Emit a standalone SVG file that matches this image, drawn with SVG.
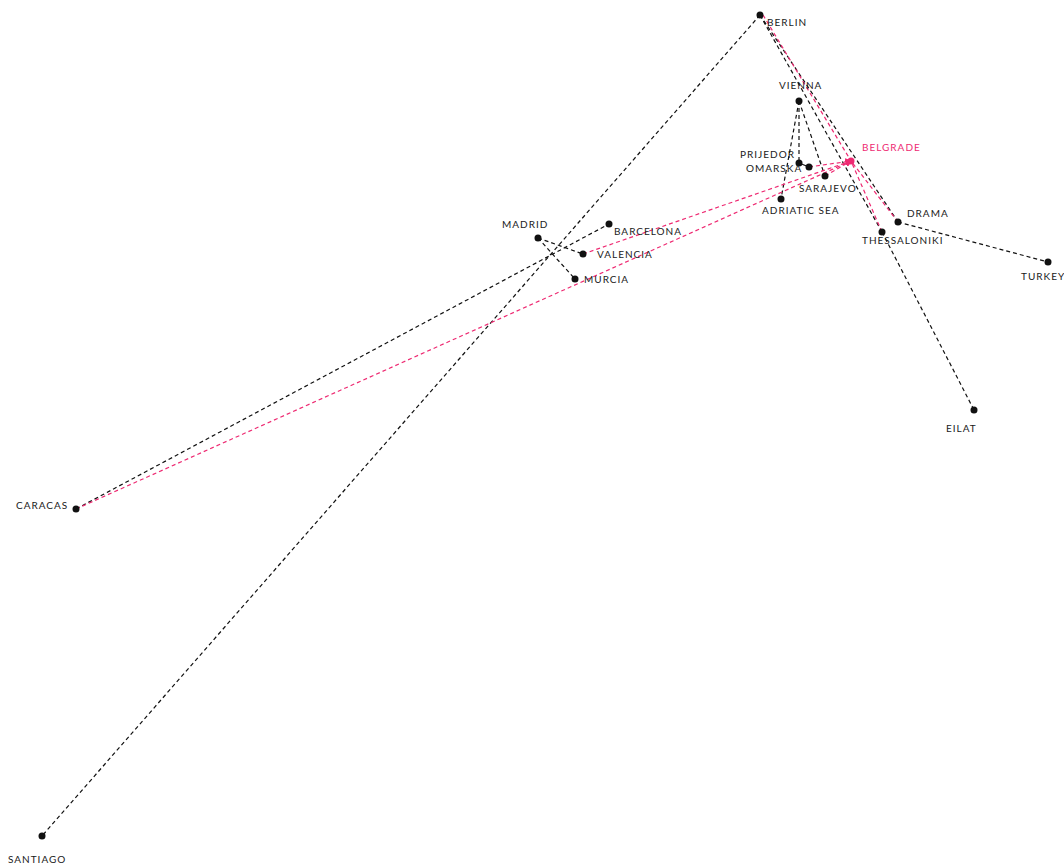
<svg xmlns="http://www.w3.org/2000/svg" width="1064" height="865" viewBox="0 0 1064 865">
<defs>
<style>
.e{fill:none;stroke:#111;stroke-width:1.2;stroke-dasharray:4 3}
.p{fill:none;stroke:#ee2a72;stroke-width:1.2;stroke-dasharray:4 3}
.a{marker-end:url(#ah)}
.d{fill:#111}
.pd{fill:#ee2a72}
text{font-family:Lato,"Open Sans","DejaVu Sans",sans-serif;font-size:10px;letter-spacing:1px;fill:#1a1a1a}
.pt{fill:#ee2a72}
</style>
<marker id="ah" viewBox="0 0 10 10" refX="8" refY="5" markerWidth="7" markerHeight="7" markerUnits="userSpaceOnUse" orient="auto">
<path d="M0,0 L10,5 L0,10 z" fill="#ee2a72"/>
</marker>
</defs>
<rect width="1064" height="865" fill="#fff"/>
<g id="connectors">
<line class="e" x1="760" y1="15" x2="42" y2="836"/>
<line class="e" x1="760" y1="15" x2="882" y2="232"/>
<line class="e" x1="760" y1="15" x2="898" y2="222"/>
<line class="e" x1="799" y1="101" x2="799" y2="163"/>
<line class="e" x1="799" y1="101" x2="781" y2="199"/>
<line class="e" x1="799" y1="101" x2="825" y2="176"/>
<line class="e" x1="799" y1="163" x2="809" y2="167" style="stroke-dasharray:none"/>
<line class="e" x1="882" y1="232" x2="974" y2="410"/>
<line class="e" x1="898" y1="222" x2="1048" y2="262"/>
<line class="e" x1="538" y1="238" x2="583" y2="254"/>
<line class="e" x1="538" y1="238" x2="575" y2="279"/>
<line class="e" x1="76" y1="509" x2="609" y2="224"/>
<line class="p" x1="763" y1="15" x2="851" y2="161"/>
<line class="p" x1="882" y1="232" x2="851" y2="161"/>
<line class="p" x1="898" y1="222" x2="851" y2="161"/>
<line class="p a" x1="809" y1="167" x2="851" y2="161"/>
<line class="p a" x1="825" y1="176" x2="851" y2="161"/>
<line class="p a" x1="583" y1="254" x2="851" y2="161"/>
<line class="p a" x1="76" y1="509" x2="851" y2="161"/>
</g>
<g id="berlin"><circle class="d" cx="760" cy="15" r="3.5"/><text x="767" y="26">BERLIN</text></g>
<g id="vienna"><circle class="d" cx="799" cy="101" r="3.5"/><text x="779" y="89">VIENNA</text></g>
<g id="prijedor"><circle class="d" cx="799" cy="163" r="3.5"/><text x="740" y="158">PRIJEDOR</text></g>
<g id="omarska"><circle class="d" cx="809" cy="167" r="3.5"/><text x="746" y="172">OMARSKA</text></g>
<g id="sarajevo"><circle class="d" cx="825" cy="176" r="3.5"/><text x="799" y="192">SARAJEVO</text></g>
<g id="adriatic-sea"><circle class="d" cx="781" cy="199" r="3.5"/><text x="762" y="214">ADRIATIC SEA</text></g>
<g id="belgrade"><circle class="pd" cx="851" cy="161" r="3.5"/><text class="pt" x="862" y="151">BELGRADE</text></g>
<g id="drama"><circle class="d" cx="898" cy="222" r="3.5"/><text x="907" y="217">DRAMA</text></g>
<g id="thessaloniki"><circle class="d" cx="882" cy="232" r="3.5"/><text x="862" y="244">THESSALONIKI</text></g>
<g id="turkey"><circle class="d" cx="1048" cy="262" r="3.5"/><text x="1021" y="280">TURKEY</text></g>
<g id="eilat"><circle class="d" cx="974" cy="410" r="3.5"/><text x="946" y="432">EILAT</text></g>
<g id="madrid"><circle class="d" cx="538" cy="238" r="3.5"/><text x="502" y="228">MADRID</text></g>
<g id="barcelona"><circle class="d" cx="609" cy="224" r="3.5"/><text x="614" y="235">BARCELONA</text></g>
<g id="valencia"><circle class="d" cx="583" cy="254" r="3.5"/><text x="597" y="258">VALENCIA</text></g>
<g id="murcia"><circle class="d" cx="575" cy="279" r="3.5"/><text x="584" y="283">MURCIA</text></g>
<g id="caracas"><circle class="d" cx="76" cy="509" r="3.5"/><text x="16" y="509">CARACAS</text></g>
<g id="santiago"><circle class="d" cx="42" cy="836" r="3.5"/><text x="8" y="863">SANTIAGO</text></g>
</svg>
